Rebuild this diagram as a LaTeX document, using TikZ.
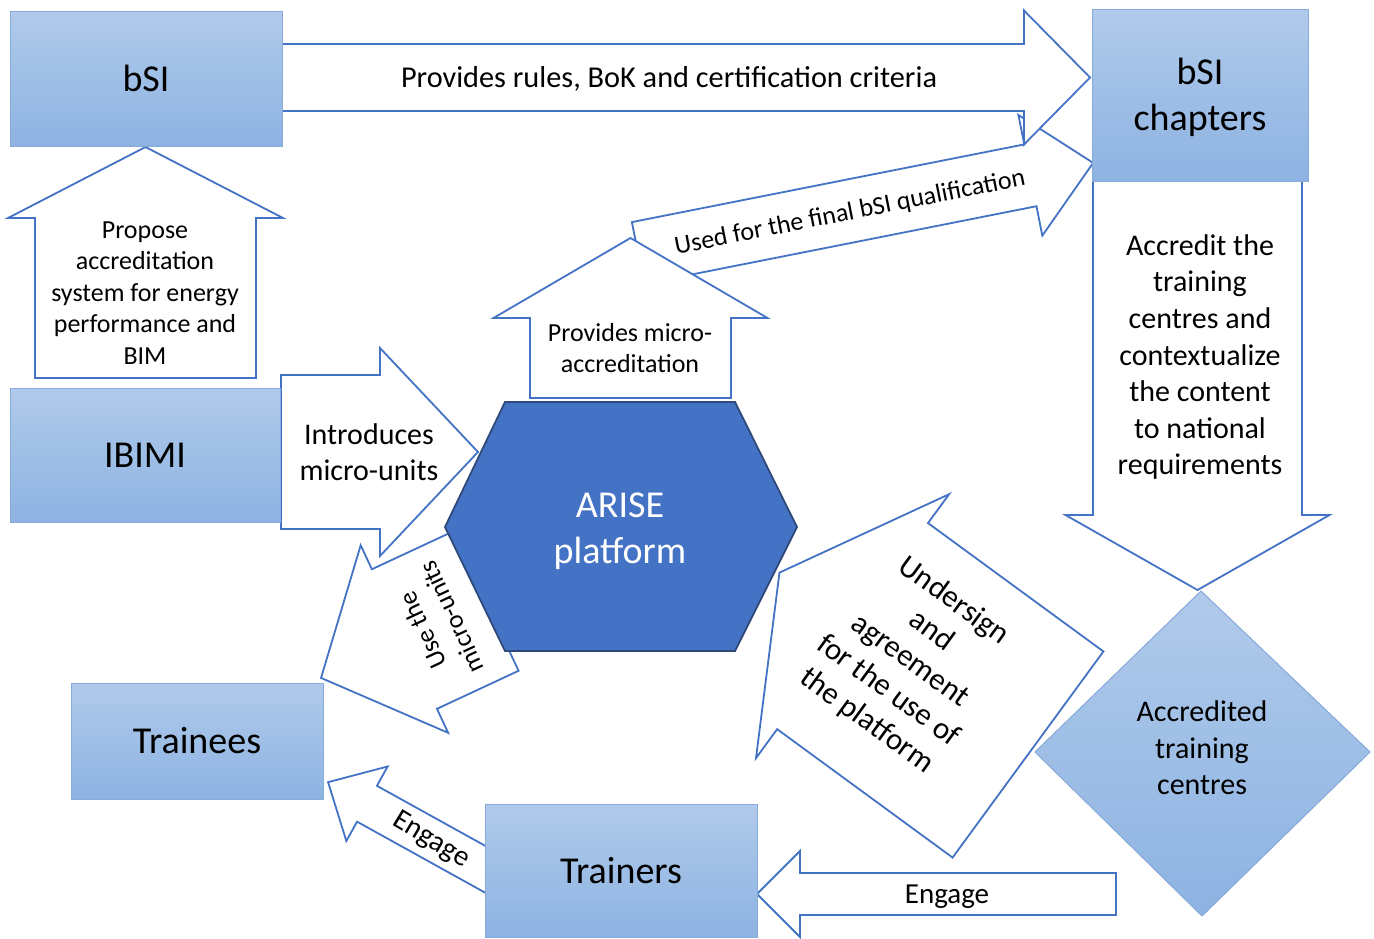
\documentclass[tikz,border=0pt]{standalone}
\usepackage{fontspec}
\setmainfont{Carlito}
\usetikzlibrary{shapes.geometric}
\definecolor{boxtop}{HTML}{B0CAEA}
\definecolor{boxbot}{HTML}{8DB3E2}
\definecolor{boxline}{HTML}{86AAD9}
\definecolor{arrline}{HTML}{4472C4}
\definecolor{hexfill}{HTML}{4472C4}
\definecolor{hexline}{HTML}{2F4A7A}
\newcommand\blockarr[8]{% style, back x, back y, angle, length, shaft half, head length, head half
  \begin{scope}[shift={(#2,#3)},rotate=#4]
    \draw[#1] (0,-#6) -- ({#5-#7},-#6) -- ({#5-#7},-#8) -- (#5,0) -- ({#5-#7},#8) -- ({#5-#7},#6) -- (0,#6) -- cycle;
  \end{scope}}
\tikzset{
  box/.style={draw=boxline, line width=1pt, top color=boxtop, bottom color=boxbot, inner sep=0pt, font=\fontsize{38}{46}\selectfont},
  blk/.style={draw=arrline, line width=1.8pt, fill=white, line join=miter},
  bigt/.style={font=\fontsize{38}{46}\selectfont, align=center},
  midt/.style={font=\fontsize{30}{36.6}\selectfont, align=center},
  smlt/.style={font=\fontsize{26}{31.6}\selectfont, align=center},
}
\begin{document}
\begin{tikzpicture}[x=1pt,y=-1pt]
\useasboundingbox (0,0) rectangle (1374,938);
\fill[white] (0,0) rectangle (1374,938);

% block arrows (back layers first)
\blockarr{blk}{638}{253}{11.2}{464}{31.5}{64}{61.5}      % used for final bSI qualification
\blockarr{blk}{630.5}{398}{90}{160}{100.5}{80}{137}      % provides micro-accreditation
\blockarr{blk}{282}{77.5}{0}{808}{33.5}{66}{67}          % provides rules
\blockarr{blk}{145.5}{378}{90}{231}{110.5}{71}{137.5}    % propose
\blockarr{blk}{281}{452}{0}{197}{77}{98}{104}            % introduces
\blockarr{blk}{486}{601}{205}{182}{77}{92}{103.5}        % use the micro-units

% hexagon
\draw[fill=hexfill, draw=hexline, line width=1.8pt, line join=miter]
  (505,402) -- (735,402) -- (797,527) -- (735,651) -- (505,651) -- (445,527) -- cycle;

\blockarr{blk}{1028}{754.5}{143.8}{308}{127.7}{90.6}{163.5} % undersign
\blockarr{blk}{1197.5}{181}{-90}{409}{104.5}{75}{132}    % accredit
\blockarr{blk}{1116}{894}{180}{359}{21}{43}{43}          % engage bottom
\blockarr{blk}{510}{883}{151}{208}{20.5}{44.5}{42.6}     % engage upper-left

% boxes
\node[box, minimum width=272pt, minimum height=135pt] (bsi) at (146,78.5) {bSI};
\node[box, minimum width=216pt, minimum height=172pt] (chap) at (1200,95) {};
\node[bigt] (chaplbl) at (1200,97) {bSI\\chapters};
\node[box, minimum width=270pt, minimum height=134pt] (ibimi) at (145,455) {IBIMI};
\node[box, minimum width=252pt, minimum height=116pt] (trainees) at (197,741) {Trainees};
\node[box, minimum width=272pt, minimum height=133pt] (trainers) at (621,870.5) {Trainers};
\shade[top color=boxtop, bottom color=boxbot, draw=boxline, line width=1pt]
  (1201,591) -- (1370,752) -- (1202,916) -- (1035,752) -- cycle;

% labels
\node[smlt, font=\fontsize{30.3}{36.6}\selectfont] (lrules) at (669,79) {Provides rules, BoK and certification criteria};
\node[smlt] (lprop) at (145,293) {Propose\\accreditation\\system for energy\\performance and\\BIM};
\node[midt] (lintro) at (369,452) {Introduces\\micro-units};
\node[smlt] (lmicro) at (630,348) {Provides micro-\\accreditation};
\node[smlt, rotate=11.2] (lused) at (850,213) {Used for the final bSI qualification};
\node[bigt, text=white] (arise) at (620,531) {ARISE\\platform};
\node[midt] (lacc) at (1200,357) {Accredit the\\training\\centres and\\contextualize\\the content\\to national\\requirements};
\node[smlt, rotate=115] (luse) at (437,624) {Use the\\micro-units};
\node[midt, font=\fontsize{31}{37}\selectfont, rotate=-36] (lunder) at (910,661) {Undersign\\and\\agreement\\for the use of\\the platform};
\node[midt] (atc) at (1202,748) {Accredited\\training\\centres};
\node[midt, font=\fontsize{29}{35}\selectfont, rotate=-31] (leng1) at (431,840) {Engage};
\node[midt, font=\fontsize{29}{35}\selectfont] (leng2) at (947,897) {Engage};
\end{tikzpicture}
\end{document}
